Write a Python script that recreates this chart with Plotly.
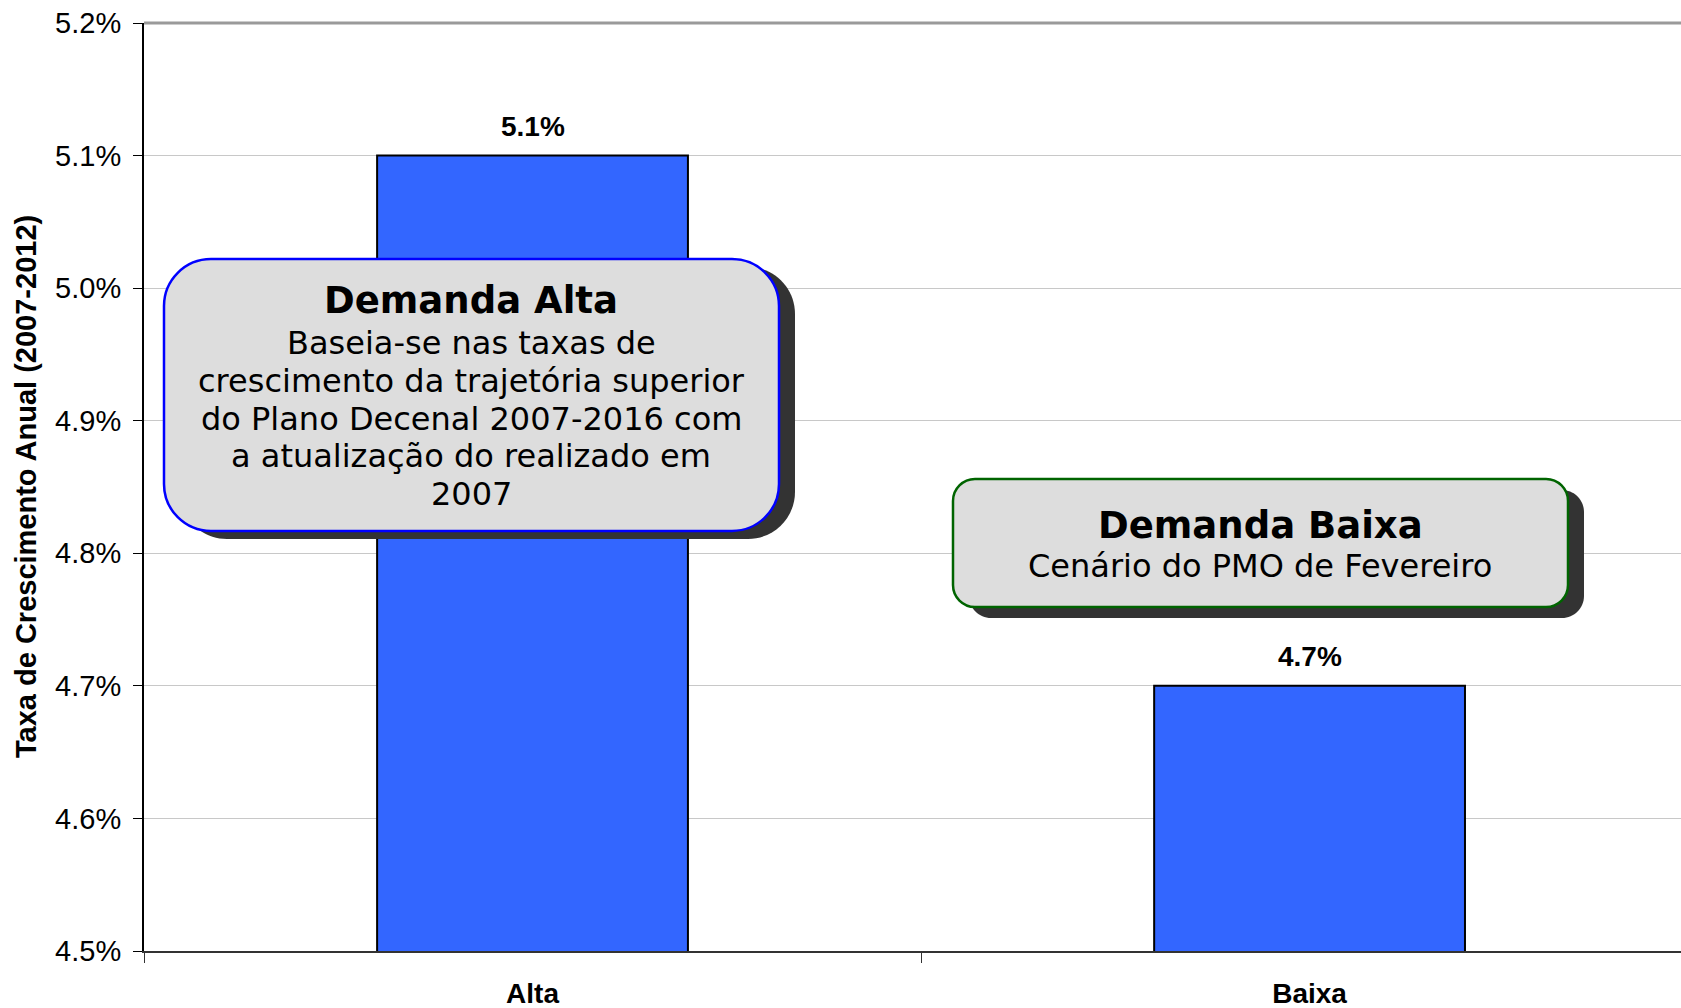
import plotly.graph_objects as go

# ---------------- data ----------------
categories = ["Alta", "Baixa"]
values = [5.1, 4.7]
y_tick_values = [4.5, 4.6, 4.7, 4.8, 4.9, 5.0, 5.1, 5.2]
y_title = "Taxa de Crescimento Anual (2007-2012)"

alta_title = "Demanda Alta"
alta_lines = [
    "Baseia-se nas taxas de",
    "crescimento da trajetória superior",
    "do Plano Decenal 2007-2016 com",
    "a atualização do realizado em",
    "2007",
]
baixa_title = "Demanda Baixa"
baixa_lines = ["Cenário do PMO de Fevereiro"]

# ---------------- layout geometry (pixels) ----------------
FIG_W, FIG_H = 1681, 1008
L, T = 144, 23
B = 57
W = FIG_W - L
H = FIG_H - T - B


def px(x):
    return (x - L) / W


def py(y):
    return 1 - (y - T) / H


def rounded_path(x0, y0, x1, y1, r):
    k = 0.5523 * r
    pts = [
        ("M", [(x0 + r, y0)]),
        ("L", [(x1 - r, y0)]),
        ("C", [(x1 - r + k, y0), (x1, y0 + r - k), (x1, y0 + r)]),
        ("L", [(x1, y1 - r)]),
        ("C", [(x1, y1 - r + k), (x1 - r + k, y1), (x1 - r, y1)]),
        ("L", [(x0 + r, y1)]),
        ("C", [(x0 + r - k, y1), (x0, y1 - r + k), (x0, y1 - r)]),
        ("L", [(x0, y0 + r)]),
        ("C", [(x0, y0 + r - k), (x0 + r - k, y0), (x0 + r, y0)]),
    ]
    s = ""
    for cmd, ps in pts:
        s += cmd + " " + " ".join(f"{px(a):.5f},{py(b):.5f}" for a, b in ps) + " "
    return s + "Z"


fig = go.Figure()
fig.add_trace(
    go.Bar(
        x=categories,
        y=values,
        width=0.4,
        marker=dict(color="#3366FF", line=dict(color="#000000", width=2)),
        hoverinfo="skip",
    )
)

shapes = []
# top frame line
shapes.append(dict(type="line", xref="paper", yref="paper", x0=0, x1=1, y0=1, y1=1,
                   line=dict(color="#9a9a9a", width=3), layer="above"))


def add_box(x0, y0, x1, y1, r, border, dx, dy):
    shapes.append(dict(type="path", xref="paper", yref="paper",
                       path=rounded_path(x0 + dx, y0 + dy, x1 + dx, y1 + dy, r),
                       fillcolor="#333333", line=dict(width=0), layer="above"))
    shapes.append(dict(type="path", xref="paper", yref="paper",
                       path=rounded_path(x0, y0, x1, y1, r),
                       fillcolor="#DDDDDD", line=dict(color=border, width=2.5), layer="above"))


add_box(164, 259, 779, 531, 47, "#0000FF", 16, 8)
add_box(953, 479, 1568, 607, 22, "#006400", 16, 11)

annotations = []
BOX_FONT = "DejaVu Sans, Verdana, sans-serif"


def txt(x, y, text, size, bold=False):
    annotations.append(dict(
        xref="paper", yref="paper", x=px(x), y=py(y), xanchor="center", yanchor="middle",
        text=f"<b>{text}</b>" if bold else text, showarrow=False,
        font=dict(family=BOX_FONT, size=size, color="#000000")))


txt(471, 301, alta_title, 37, bold=True)
for i, line in enumerate(alta_lines):
    txt(471, 343 + i * 37.8, line, 32)
txt(1260, 525, baixa_title, 37, bold=True)
for i, line in enumerate(baixa_lines):
    txt(1260, 566 + i * 37.8, line, 32)

# bar value labels
for c, v in zip(categories, values):
    annotations.append(dict(
        x=c, y=v, xref="x", yref="y", yshift=29, xanchor="center", yanchor="middle",
        text=f"<b>{v:.1f}%</b>", showarrow=False,
        font=dict(family="Liberation Sans, Arial, sans-serif", size=28, color="#000000")))

# y axis title
annotations.append(dict(
    xref="paper", yref="paper", x=0, y=0.5, xshift=26 - L, xanchor="center", yanchor="middle",
    text=f"<b>{y_title}</b>", textangle=-90, showarrow=False,
    font=dict(family="Liberation Sans, Arial, sans-serif", size=29, color="#000000")))

fig.update_layout(
    width=FIG_W, height=FIG_H, autosize=False,
    margin=dict(l=L, r=0, t=T, b=B, pad=0),
    plot_bgcolor="#FFFFFF", paper_bgcolor="#FFFFFF",
    showlegend=False, bargap=0.6,
    shapes=shapes, annotations=annotations,
    font=dict(family="Liberation Sans, Arial, sans-serif", size=28, color="#000000"),
)
fig.update_xaxes(
    type="category", range=[-0.5, 1.478],
    showline=True, linecolor="#333333", linewidth=2,
    ticks="outside", tickson="boundaries", ticklen=10, tickcolor="#333333", tickwidth=1,
    tickfont=dict(family="Liberation Sans, Arial, sans-serif", size=28, color="#000000"),
    tickvals=categories, ticktext=[f"<b>{c}</b>" for c in categories],
    ticklabelstandoff=16,
    showgrid=False, zeroline=False,
)
fig.update_yaxes(
    range=[y_tick_values[0], y_tick_values[-1]],
    tickvals=y_tick_values, ticktext=[f"{v:.1f}%" for v in y_tick_values],
    showline=True, linecolor="#000000", linewidth=2,
    ticks="outside", ticklen=9, tickcolor="#000000", tickwidth=1,
    ticklabelstandoff=6,
    showgrid=True, gridcolor="#C8C8C8", gridwidth=1, zeroline=False,
    tickfont=dict(family="Liberation Sans, Arial, sans-serif", size=29, color="#000000"),
)

fig.write_html("out.html", config={"displayModeBar": False},
               post_script="document.body.style.margin='0';")
